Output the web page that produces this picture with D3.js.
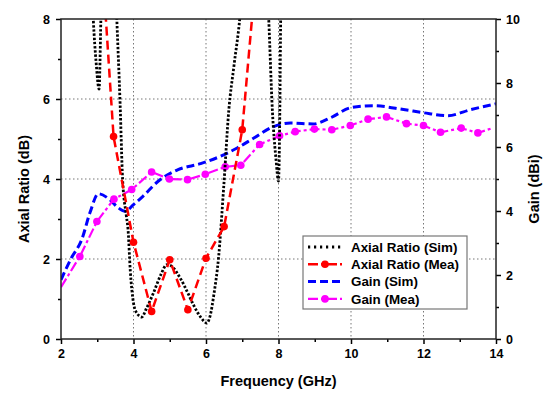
<!DOCTYPE html>
<html>
<head>
<meta charset="utf-8">
<script src="https://cdn.jsdelivr.net/npm/d3@7"></script>
<style>
  body { margin: 0; background: #fff; }
  svg text { font-family: "Liberation Sans", Arial, sans-serif; font-weight: bold; fill: #000; }
</style>
</head>
<body>
<div id="chart"></div>
<script>
var w = 550;
var h = 396;

// axial ratio, simulated (dB) - values above 8 are clipped off the plot
var arSimFreq = [2.0, 2.8, 2.89, 2.97, 3.05, 3.10, 3.15, 3.3, 3.5, 3.54, 3.63, 3.70, 3.80, 3.85, 3.91, 4.0, 4.09, 4.23, 4.35, 4.55, 4.75, 4.92, 5.05, 5.29, 5.5, 5.65, 5.85, 6.02, 6.12, 6.21, 6.35, 6.49, 6.63, 6.77, 6.93, 7.1, 7.5, 7.73, 7.83, 7.93, 8.0, 8.04, 8.06, 8.1, 14.0];
var arSimVal  = [20, 10, 8, 6.9, 6.25, 8, 10, 12, 9, 8, 5.9, 3.98, 3.1, 2.73, 1.73, 0.9, 0.65, 0.55, 0.75, 1.15, 1.6, 1.86, 1.82, 1.52, 1.15, 0.86, 0.55, 0.4, 0.6, 1.07, 2.07, 3.82, 5.73, 6.82, 8, 10, 11, 8, 5.73, 4.5, 3.95, 6, 8, 10, 20];

// axial ratio, measured (dB)
var arMeaFreq = [3.0, 3.45, 4.0, 4.5, 5.0, 5.5, 6.0, 6.5, 7.0, 7.5];
var arMeaVal  = [11.3, 5.06, 2.42, 0.69, 1.98, 0.73, 2.02, 2.81, 5.23, 10.4];

// gain, simulated (dBi)
var gainSimFreq = [2.0, 2.29, 2.57, 2.8, 3.03, 3.35, 3.58, 3.77, 4.0, 4.26, 4.68, 5.23, 5.85, 6.4, 6.86, 7.32, 7.83, 8.33, 8.96, 9.43, 10.0, 10.6, 11.45, 12.0, 12.67, 13.31, 14.0];
var gainSimVal  = [1.85, 2.54, 3.1, 3.95, 4.54, 4.35, 4.1, 3.99, 4.2, 4.46, 4.93, 5.29, 5.48, 5.71, 5.97, 6.28, 6.62, 6.75, 6.72, 6.91, 7.23, 7.29, 7.17, 7.07, 6.98, 7.17, 7.35];

// gain, measured (dBi) - first and last entries are line ends without markers
var gainMeaFreq = [2.0, 2.52, 2.99, 3.46, 3.95, 4.5, 4.99, 5.49, 5.98, 6.53, 6.96, 7.48, 8.03, 8.46, 8.99, 9.47, 9.98, 10.47, 10.98, 11.53, 12.0, 12.47, 13.04, 13.5, 13.9];
var gainMeaVal  = [1.62, 2.58, 3.67, 4.37, 4.67, 5.22, 5.0, 4.98, 5.15, 5.38, 5.43, 6.08, 6.35, 6.48, 6.56, 6.54, 6.67, 6.87, 6.94, 6.73, 6.67, 6.46, 6.59, 6.44, 6.59];

var xTicks = [2, 4, 6, 8, 10, 12, 14];
var xMinor = [3, 5, 7, 9, 11, 13];
var arTicks = [0, 2, 4, 6, 8];
var arMinor = [1, 3, 5, 7];
var gainTicks = [0, 2, 4, 6, 8, 10];
var gainMinor = [1, 3, 5, 7, 9];
var gridX = [4, 6, 8, 10, 12];
var gridY = [2, 4, 6];

var legendNames = ['Axial Ratio (Sim)', 'Axial Ratio (Mea)', 'Gain (Sim)', 'Gain (Mea)'];

// plot box (note: "top" is reserved on window, so use pl/pr/pt/pb)
var pl = 61, pr = 496, pt = 19, pb = 339;

var x = d3.scaleLinear().domain([2, 14]).range([pl, pr]);
var yAR = d3.scaleLinear().domain([0, 8]).range([pb, pt]);
var yGain = d3.scaleLinear().domain([0, 10]).range([pb, pt]);

var svg = d3.select('#chart')
  .append('svg')
  .attr('width', w)
  .attr('height', h);

svg.append('rect').attr('width', w).attr('height', h).attr('fill', '#fff');

svg.append('clipPath').attr('id', 'plotclip')
  .append('rect')
  .attr('x', pl).attr('y', pt)
  .attr('width', pr - pl).attr('height', pb - pt);

// grid
svg.selectAll('.gx').data(gridX).enter().append('line')
  .attr('x1', function(d) { return x(d); }).attr('x2', function(d) { return x(d); })
  .attr('y1', pt).attr('y2', pb)
  .attr('stroke', '#777').attr('stroke-width', 1).attr('stroke-dasharray', '1.5,2.5');
svg.selectAll('.gy').data(gridY).enter().append('line')
  .attr('x1', pl).attr('x2', pr)
  .attr('y1', function(d) { return yAR(d); }).attr('y2', function(d) { return yAR(d); })
  .attr('stroke', '#777').attr('stroke-width', 1).attr('stroke-dasharray', '1.5,2.5');

// curves
var plot = svg.append('g').attr('clip-path', 'url(#plotclip)');

var arSimLine = d3.line().x(function(d) { return x(d[0]); }).y(function(d) { return yAR(d[1]); }).curve(d3.curveMonotoneX);
var arMeaLine = d3.line().x(function(d) { return x(d[0]); }).y(function(d) { return yAR(d[1]); });
var gainSimLine = d3.line().x(function(d) { return x(d[0]); }).y(function(d) { return yGain(d[1]); }).curve(d3.curveMonotoneX);
var gainMeaLine = d3.line().x(function(d) { return x(d[0]); }).y(function(d) { return yGain(d[1]); });

var arSim = d3.zip(arSimFreq, arSimVal);
var arMea = d3.zip(arMeaFreq, arMeaVal);
var gainSim = d3.zip(gainSimFreq, gainSimVal);
var gainMea = d3.zip(gainMeaFreq, gainMeaVal);

var styles = [
  { color: '#000', width: 2.8, dash: '2.4,1.8', marker: false },
  { color: '#f00', width: 2.5, dash: '9,5', marker: true },
  { color: '#00f', width: 3, dash: '8,4', marker: false },
  { color: '#f0f', width: 2.2, dash: '10,3,3,3', marker: true }
];

plot.append('path').attr('d', gainSimLine(gainSim))
  .attr('fill', 'none').attr('stroke', styles[2].color).attr('stroke-width', styles[2].width).attr('stroke-dasharray', styles[2].dash);
plot.append('path').attr('d', gainMeaLine(gainMea))
  .attr('fill', 'none').attr('stroke', styles[3].color).attr('stroke-width', styles[3].width).attr('stroke-dasharray', styles[3].dash);
plot.selectAll('.gm').data(gainMea.slice(1, -1)).enter().append('circle')
  .attr('cx', function(d) { return x(d[0]); }).attr('cy', function(d) { return yGain(d[1]); })
  .attr('r', 3.8).attr('fill', styles[3].color);

plot.append('path').attr('d', arSimLine(arSim))
  .attr('fill', 'none').attr('stroke', styles[0].color).attr('stroke-width', styles[0].width).attr('stroke-dasharray', styles[0].dash);
plot.append('path').attr('d', arMeaLine(arMea))
  .attr('fill', 'none').attr('stroke', styles[1].color).attr('stroke-width', styles[1].width).attr('stroke-dasharray', styles[1].dash);
plot.selectAll('.am').data(arMea.slice(1, -1)).enter().append('circle')
  .attr('cx', function(d) { return x(d[0]); }).attr('cy', function(d) { return yAR(d[1]); })
  .attr('r', 3.8).attr('fill', styles[1].color);

// axes
function styleAxis(g) {
  g.select('.domain').remove();
  g.selectAll('line').attr('stroke', '#000').attr('stroke-width', 1.5);
  g.selectAll('text').attr('font-size', 12.5);
}

svg.append('g').attr('transform', 'translate(0,' + pb + ')')
  .call(d3.axisBottom(x).tickValues(xTicks).tickSize(5).tickPadding(5).tickFormat(d3.format('d')))
  .call(styleAxis);
svg.append('g').attr('transform', 'translate(0,' + pb + ')')
  .call(d3.axisBottom(x).tickValues(xMinor).tickSize(3).tickFormat(''))
  .call(styleAxis);
svg.append('g').attr('transform', 'translate(' + pl + ',0)')
  .call(d3.axisLeft(yAR).tickValues(arTicks).tickSize(5).tickPadding(6))
  .call(styleAxis);
svg.append('g').attr('transform', 'translate(' + pl + ',0)')
  .call(d3.axisLeft(yAR).tickValues(arMinor).tickSize(3).tickFormat(''))
  .call(styleAxis);
svg.append('g').attr('transform', 'translate(' + pr + ',0)')
  .call(d3.axisRight(yGain).tickValues(gainTicks).tickSize(5).tickPadding(5))
  .call(styleAxis);
svg.append('g').attr('transform', 'translate(' + pr + ',0)')
  .call(d3.axisRight(yGain).tickValues(gainMinor).tickSize(3).tickFormat(''))
  .call(styleAxis);

// frame
svg.append('rect')
  .attr('x', pl).attr('y', pt)
  .attr('width', pr - pl).attr('height', pb - pt)
  .attr('fill', 'none').attr('stroke', '#222').attr('stroke-width', 1.5);

// axis titles
svg.append('text').attr('x', (pl + pr) / 2).attr('y', 386)
  .attr('text-anchor', 'middle').attr('font-size', 14.5).text('Frequency (GHz)');
svg.append('text').attr('transform', 'translate(29,189) rotate(-90)')
  .attr('text-anchor', 'middle').attr('font-size', 14.5).text('Axial Ratio (dB)');
svg.append('text').attr('transform', 'translate(539,189) rotate(-90)')
  .attr('text-anchor', 'middle').attr('font-size', 14.5).text('Gain (dBi)');

// legend
var lg = svg.append('g');
lg.append('rect')
  .attr('x', 303).attr('y', 236).attr('width', 164).attr('height', 73)
  .attr('fill', '#fff').attr('stroke', '#777').attr('stroke-width', 1.2);

var rows = lg.selectAll('.row').data(legendNames).enter().append('g')
  .attr('transform', function(d, i) { return 'translate(0,' + (247 + i * 17.3) + ')'; });
rows.append('line')
  .attr('x1', 308).attr('x2', 342).attr('y1', 0).attr('y2', 0)
  .attr('stroke', function(d, i) { return styles[i].color; })
  .attr('stroke-width', function(d, i) { return styles[i].width; })
  .attr('stroke-dasharray', function(d, i) { return i == 0 ? '2.2,3.8' : (i == 2 ? '8,4' : '10,3,3,3'); });
rows.filter(function(d, i) { return styles[i].marker; }).append('circle')
  .attr('cx', 325).attr('cy', 0).attr('r', 3.8)
  .attr('fill', function(d) { return styles[legendNames.indexOf(d)].color; });
rows.append('text')
  .attr('x', 351).attr('y', 0).attr('dy', '0.35em')
  .attr('font-size', 13.4)
  .text(function(d) { return d; });
</script>
</body>
</html>
